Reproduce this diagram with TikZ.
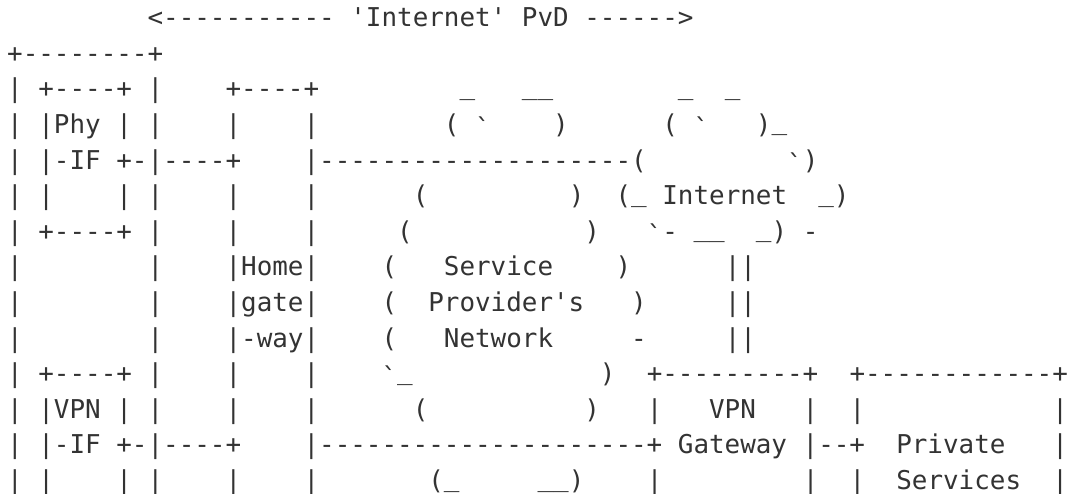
\documentclass[tikz,border=0pt]{standalone}
\usepackage{fontspec}
\setmonofont{DejaVu Sans Mono}
\definecolor{ink}{HTML}{333333}
\newcommand\sk[1]{\kern#1\fontcharwd\font`\M\relax}
\newcommand\us{\raisebox{3.5pt}{\_}}
\newcommand\bt{\raisebox{-4pt}{`}}
\begin{document}
\begin{tikzpicture}[x=1pt,y=1pt,
  row/.style={anchor=base west, inner sep=0pt, outer sep=0pt, text=ink,
    font=\ttfamily\fontsize{25.91}{35.6}\selectfont}]
\useasboundingbox (0,0) rectangle (1069,-494);
\fill[white] (0,0) rectangle (1069,-494);
\node[row] (r0)  at (7.2,-26.7)  {\sk{9}<-----------\sk{1}'Internet'\sk{1}PvD\sk{1}------>};
\node[row] (r1)  at (7.2,-62.3)  {+--------+};
\node[row] (r2)  at (7.2,-97.9)  {|\sk{1}+----+\sk{1}|\sk{4}+----+\sk{9}\us\sk{3}\us\us\sk{8}\us\sk{2}\us};
\node[row] (r3)  at (7.2,-133.5) {|\sk{1}|Phy\sk{1}|\sk{1}|\sk{4}|\sk{4}|\sk{8}(\sk{1}\bt\sk{4})\sk{6}(\sk{1}\bt\sk{3})\us};
\node[row] (r4)  at (7.2,-169.1) {|\sk{1}|-IF\sk{1}+-|----+\sk{4}|--------------------(\sk{9}\bt)};
\node[row] (r5)  at (7.2,-204.7) {|\sk{1}|\sk{4}|\sk{1}|\sk{4}|\sk{4}|\sk{6}(\sk{9})\sk{2}(\us\sk{1}Internet\sk{2}\us)};
\node[row] (r6)  at (7.2,-240.3) {|\sk{1}+----+\sk{1}|\sk{4}|\sk{4}|\sk{5}(\sk{11})\sk{3}\bt-\sk{1}\us\us\sk{2}\us)\sk{1}-};
\node[row] (r7)  at (7.2,-275.9) {|\sk{8}|\sk{4}|Home|\sk{4}(\sk{3}Service\sk{4})\sk{6}||};
\node[row] (r8)  at (7.2,-311.5) {|\sk{8}|\sk{4}|gate|\sk{4}(\sk{2}Provider's\sk{3})\sk{5}||};
\node[row] (r9)  at (7.2,-347.1) {|\sk{8}|\sk{4}|-way|\sk{4}(\sk{3}Network\sk{5}-\sk{5}||};
\node[row] (r10) at (7.2,-382.7) {|\sk{1}+----+\sk{1}|\sk{4}|\sk{4}|\sk{4}\bt\us\sk{12})\sk{2}+---------+\sk{2}+------------+};
\node[row] (r11) at (7.2,-418.3) {|\sk{1}|VPN\sk{1}|\sk{1}|\sk{4}|\sk{4}|\sk{6}(\sk{10})\sk{3}|\sk{3}VPN\sk{3}|\sk{2}|\sk{12}|};
\node[row] (r12) at (7.2,-453.9) {|\sk{1}|-IF\sk{1}+-|----+\sk{4}|---------------------+\sk{1}Gateway\sk{1}|--+\sk{2}Private\sk{3}|};
\node[row] (r13) at (7.2,-489.5) {|\sk{1}|\sk{4}|\sk{1}|\sk{4}|\sk{4}|\sk{7}(\us\sk{5}\us\us)\sk{4}|\sk{9}|\sk{2}|\sk{2}Services\sk{2}|};
\end{tikzpicture}
\end{document}
